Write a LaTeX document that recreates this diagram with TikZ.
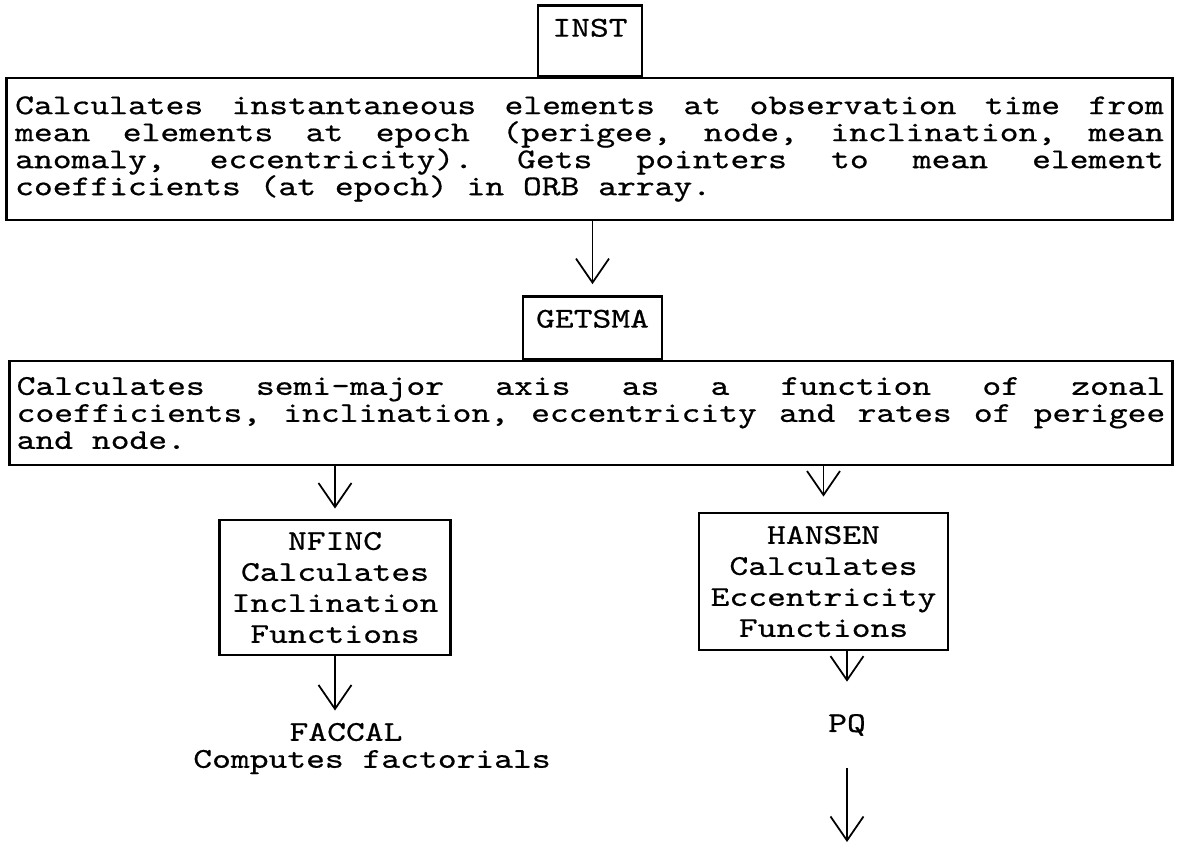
\documentclass[tikz,border=0pt]{standalone}
\usepackage{fontspec}
\setmonofont{lmmono10-regular.otf}[FakeStretch=1.25, FakeBold=0.6]
\usetikzlibrary{arrows.meta}

\newcommand{\descfont}{\ttfamily\fontsize{8.15}{7.68}\selectfont\frenchspacing
  \spaceskip=\fontdimen2\font plus 20em minus 0.1em\relax
  \hbadness=10000 \hyphenpenalty=10000 }
\newcommand{\callfont}{\ttfamily\fontsize{8.15}{8.82}\selectfont}

\tikzset{
  namebox/.style={draw, line width=0.8pt, inner sep=0pt, text height=0.31cm, anchor=south, font=\callfont},
  descbox/.style={draw, line width=0.8pt, align=justify, text width=11.48cm, font=\descfont},
  callbox/.style={draw, line width=0.8pt, align=center, font=\callfont},
  plain/.style={font=\callfont},
  flow/.style={-{Straight Barb[length=0.24cm, width=0.33cm]}, line width=0.5pt},
}

\begin{document}
\begin{tikzpicture}[x=0.01cm, y=-0.01cm]
  \useasboundingbox (0,0) rectangle (1185,844);

  % top level
  \node[descbox, inner xsep=0.085cm, minimum height=1.42cm] (instdesc) at (589.5,149)
    {Calculates instantaneous elements at observation time from\break
     mean elements at epoch (perigee, node, inclination, mean\break
     anomaly, eccentricity). Gets pointers to mean element\break
     coefficients (at epoch) in ORB array.};
  \node[namebox, minimum width=1.04cm, text depth=0.40cm] (inst) at (590,78) {INST};

  % semi-major axis
  \node[descbox, inner xsep=0.07cm, minimum height=1.04cm] (getsmadesc) at (591,413)
    {Calculates semi-major axis as a function of zonal\break
     coefficients, inclination, eccentricity and rates of perigee\break
     and node.};
  \node[namebox, minimum width=1.39cm, text depth=0.32cm] (getsma) at (592.5,361) {GETSMA};

  % lower routines
  \node[callbox, minimum width=2.30cm, minimum height=1.35cm] (nfinc) at (335,587.5)
    {NFINC\\Calculates\\Inclination\\Functions};
  \node[callbox, minimum width=2.47cm, minimum height=1.37cm] (hansen) at (823.5,581.5)
    {HANSEN\\Calculates\\Eccentricity\\Functions};
  \node[plain] (faccal) at (346,732) {FACCAL};
  \node[plain] (faccaldesc) at (372,762) {Computes factorials};
  \node[plain] (pq) at (847,725) {PQ};
  \coordinate (pqout) at (847,842);

  % arrows
  \draw[flow, shorten >=0.11cm] (instdesc.south -| getsma.north) -- (getsma.north);
  \draw[flow, shorten >=0.10cm] (getsmadesc.south -| nfinc.north) -- (nfinc.north);
  \draw[flow, shorten >=0.15cm] (getsmadesc.south -| hansen.north) -- (hansen.north);
  \draw[flow] (nfinc.south) -- (nfinc.south |- faccal.north);
  \draw[flow, shorten >=0.2cm] (hansen.south -| pq.north) -- (pq.north);
  \draw[flow, shorten <=0.2cm] (pq.south) -- (pqout);
\end{tikzpicture}
\end{document}
